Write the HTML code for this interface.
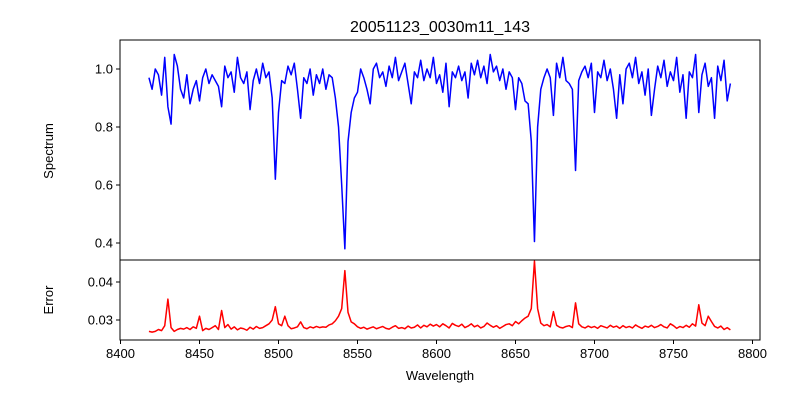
<!DOCTYPE html>
<html><head><meta charset="utf-8"><style>
body{margin:0;background:#fff}
svg{display:block;font-family:"Liberation Sans","DejaVu Sans",sans-serif}
</style></head><body>
<svg id="chart" width="800" height="400"></svg>
<script>
const wlStart = 8418, wlStep = 2;
const spectrum = [
0.97,0.93,1.00,0.98,0.91,1.04,0.87,0.81,1.05,1.01,
0.93,0.90,0.98,0.88,0.93,0.96,0.89,0.97,1.00,0.95,
0.98,0.96,0.94,0.87,1.01,0.97,0.99,0.92,1.04,0.97,
0.95,0.99,0.86,0.96,1.00,0.95,1.02,0.97,0.99,0.90,
0.62,0.85,0.96,0.95,1.01,0.98,1.02,0.93,0.83,0.97,
0.95,1.00,0.91,0.98,0.95,1.00,0.93,0.98,0.97,0.90,
0.80,0.60,0.38,0.75,0.85,0.90,0.92,1.00,0.97,0.93,
0.88,1.00,1.02,0.97,0.99,0.94,1.01,0.97,1.04,0.96,
0.99,1.02,0.95,0.88,0.99,0.97,1.03,0.96,1.00,0.97,
1.04,0.95,0.98,0.92,1.02,0.87,0.99,0.97,1.01,0.96,
0.99,0.90,1.02,0.98,1.03,0.97,1.01,0.95,1.05,0.99,
1.01,0.96,1.00,0.93,0.99,0.97,0.86,0.97,0.95,0.89,
0.88,0.75,0.405,0.80,0.93,0.97,1.00,0.97,0.84,1.02,
0.97,1.04,0.96,0.95,0.93,0.65,0.96,0.99,1.01,0.97,
1.02,0.85,0.99,0.97,1.03,0.96,1.00,0.93,0.83,0.98,
0.88,1.00,1.02,0.97,1.04,0.95,0.99,0.91,1.00,0.84,
0.93,1.01,0.97,1.03,0.94,0.99,0.96,1.04,0.92,0.98,
0.83,0.99,0.97,1.05,0.85,0.98,1.02,0.94,0.97,0.83,
1.01,0.96,1.03,0.89,0.95];
const errorVals = [
.027,.0268,.027,.0275,.0272,.0285,.0355,.028,.027,.0275,
.0278,.0276,.028,.0275,.0282,.0278,.031,.0272,.0278,.0275,
.028,.0285,.0275,.0325,.028,.0288,.0276,.0282,.0274,.0279,
.0277,.0273,.0281,.0276,.0283,.0278,.0280,.0285,.0290,.0300,
.0335,.0290,.0285,.031,.0285,.0277,.0279,.0282,.0295,.0280,
.0277,.0282,.0279,.0283,.0280,.0282,.0281,.0287,.0290,.0298,
.0310,.0330,.043,.0320,.0295,.0290,.0282,.0278,.0281,.0276,
.0279,.0282,.0277,.0280,.0283,.0278,.0276,.0281,.0285,.0278,
.0280,.0277,.0284,.0279,.0281,.0287,.0279,.0286,.0282,.0289,
.0284,.0288,.0282,.0290,.0285,.0279,.0291,.0286,.0283,.0289,
.0280,.0284,.0290,.0282,.0286,.0279,.0283,.0292,.0286,.0281,
.0285,.0278,.0283,.0288,.0290,.0285,.0296,.0290,.0298,.0305,
.0310,.0330,.0455,.0330,.0292,.0285,.0288,.0282,.0322,.0286,
.0281,.0279,.0283,.0285,.0280,.0345,.0290,.0282,.0279,.0284,
.0280,.0283,.0278,.0285,.0282,.0279,.0286,.0281,.0284,.0278,
.0285,.0280,.0283,.0279,.0287,.0282,.0278,.0284,.0281,.0286,
.0280,.0283,.0288,.0282,.0279,.0290,.0285,.0278,.0283,.0280,
.0286,.0281,.0290,.0284,.0340,.0292,.0285,.0310,.0296,.0283,
.0279,.0284,.0275,.0280,.0274];
const xTicks = [8400,8450,8500,8550,8600,8650,8700,8750,8800];
const topTicks = [0.4,0.6,0.8,1.0];
const botTicks = [0.03,0.04];

const NS="http://www.w3.org/2000/svg";
const svg=document.getElementById('chart');
const L=120,R=760,T1=40,B1=260,T2=260,B2=340;
const xs=v=>120.5+(v-8400)*1.58;
const ys1=v=>69+(1.0-v)*290;
const ys2=v=>320-(v-0.03)*3800;
function mk(tag,attrs,parent){const e=document.createElementNS(NS,tag);for(const k in attrs)e.setAttribute(k,attrs[k]);(parent||svg).appendChild(e);return e;}
function txt(s,attrs){const e=mk('text',attrs);e.textContent=s;return e;}

const t=txt('20051123_0030m11_143',{x:440,y:32,'text-anchor':'middle','font-size':16});



function line(vals,ys,color,name){
  const pts=vals.map((v,i)=>xs(wlStart+i*wlStep).toFixed(2)+','+ys(v).toFixed(2)).join(' ');
  const p=mk('polyline',{points:pts,fill:'none',stroke:color,'stroke-width':1.5,'stroke-linejoin':'round'});
  
  
}
line(spectrum,ys1,'#0000ff','spectrum-line');
line(errorVals,ys2,'#ff0000','error-line');

const f1=mk('rect',{x:L,y:T1,width:R-L,height:B1-T1,fill:'none',stroke:'#000','stroke-width':1});


const f2=mk('rect',{x:L,y:T2,width:R-L,height:B2-T2,fill:'none',stroke:'#000','stroke-width':1});



xTicks.forEach(v=>{
  const x=xs(v);
  mk('line',{x1:x,x2:x,y1:B2,y2:B2+4,stroke:'#000'});
  const l=txt(v,{x:x,y:B2+18,'text-anchor':'middle','font-size':13});
  
  
});
topTicks.forEach(v=>{
  const y=ys1(v);
  mk('line',{x1:L-4,x2:L,y1:y,y2:y,stroke:'#000'});
  const l=txt(v.toFixed(1),{x:L-7,y:y+4.5,'text-anchor':'end','font-size':13});
  
  
});
botTicks.forEach(v=>{
  const y=ys2(v);
  mk('line',{x1:L-4,x2:L,y1:y,y2:y,stroke:'#000'});
  const l=txt(v.toFixed(2),{x:L-7,y:y+4.5,'text-anchor':'end','font-size':13});
  
  
});
const xl=txt('Wavelength',{x:440,y:380,'text-anchor':'middle','font-size':13});


const yl1=txt('Spectrum',{x:0,y:0,'text-anchor':'middle','font-size':13,transform:'translate(53,151) rotate(-90)'});


const yl2=txt('Error',{x:0,y:0,'text-anchor':'middle','font-size':13,transform:'translate(53,300) rotate(-90)'});


</script>
</body></html>
